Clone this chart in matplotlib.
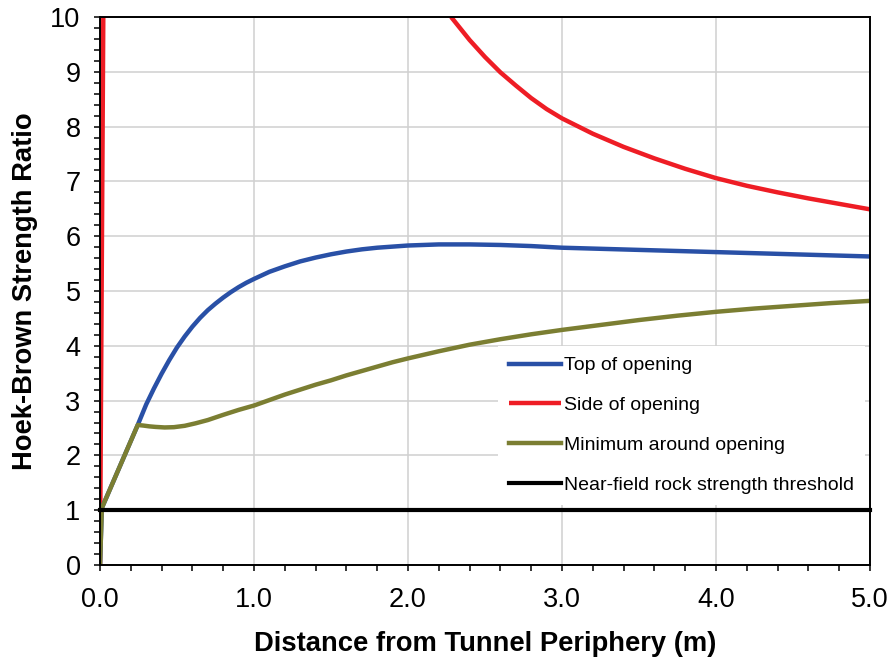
import numpy as np
import matplotlib
matplotlib.use("Agg")
import matplotlib.pyplot as plt
from matplotlib.ticker import MultipleLocator, FormatStrFormatter

plt.rcParams["font.family"] = ["Liberation Sans", "DejaVu Sans"]

# Hoek-Brown strength ratio vs distance from tunnel periphery
top_x = [0.0, 0.012, 0.245, 0.30, 0.35, 0.40, 0.45, 0.50, 0.55, 0.60, 0.65,
         0.70, 0.75, 0.80, 0.85, 0.90, 0.95, 1.00, 1.10, 1.20, 1.30, 1.40,
         1.50, 1.60, 1.70, 1.80, 1.90, 2.00, 2.20, 2.40, 2.60, 2.80, 3.00,
         3.50, 4.00, 4.50, 5.00]
top_y = [0.0, 1.04, 2.555, 2.93, 3.22, 3.49, 3.74, 3.97, 4.17, 4.35, 4.51,
         4.65, 4.77, 4.88, 4.98, 5.07, 5.15, 5.22, 5.35, 5.45, 5.54, 5.61,
         5.67, 5.72, 5.76, 5.79, 5.81, 5.83, 5.85, 5.85, 5.84, 5.82, 5.79,
         5.75, 5.71, 5.67, 5.63]

side_x = [0.0, 0.0214, np.nan, 2.28, 2.40, 2.50, 2.60, 2.70, 2.80, 2.90,
          3.00, 3.20, 3.40, 3.60, 3.80, 4.00, 4.20, 4.40, 4.60, 4.80, 5.00]
side_y = [0.0, 10.0, np.nan, 10.0, 9.58, 9.27, 8.99, 8.75, 8.52, 8.32,
          8.15, 7.87, 7.63, 7.42, 7.23, 7.06, 6.92, 6.80, 6.69, 6.59, 6.49]

min_x = [0.0, 0.012, 0.245, 0.28, 0.32, 0.36, 0.42, 0.48, 0.55, 0.62, 0.70,
         0.80, 0.90, 1.00, 1.10, 1.20, 1.30, 1.40, 1.50, 1.60, 1.70, 1.80,
         1.90, 2.00, 2.20, 2.40, 2.60, 2.80, 3.00, 3.25, 3.50, 3.75, 4.00,
         4.25, 4.50, 4.75, 5.00]
min_y = [0.0, 1.04, 2.555, 2.545, 2.53, 2.52, 2.51, 2.515, 2.54, 2.585, 2.645,
         2.74, 2.83, 2.91, 3.01, 3.11, 3.20, 3.29, 3.37, 3.46, 3.54, 3.62,
         3.70, 3.77, 3.90, 4.02, 4.12, 4.21, 4.29, 4.38, 4.47, 4.55, 4.62,
         4.68, 4.73, 4.78, 4.82]

thr_x = [0.0, 5.0]
thr_y = [1.0, 1.0]

labels = ["Top of opening", "Side of opening", "Minimum around opening",
          "Near-field rock strength threshold"]
colors = ["#2950A6", "#EE1D25", "#7B7E32", "#000000"]

fig = plt.figure(figsize=(8.91, 6.65), dpi=100)
ax = fig.add_axes([100 / 891, 1 - 565 / 665, 770 / 891, 548 / 665])

lw = 3.2
h_side, = ax.plot(side_x, side_y, color=colors[1], lw=lw, solid_capstyle="butt", zorder=3)
h_top, = ax.plot(top_x, top_y, color=colors[0], lw=lw, solid_joinstyle="round", zorder=4)
h_min, = ax.plot(min_x, min_y, color=colors[2], lw=lw, solid_joinstyle="round", zorder=5)
h_thr, = ax.plot(thr_x, thr_y, color=colors[3], lw=3.0, zorder=6, clip_on=False)

ax.set_xlim(0, 5)
ax.set_ylim(0, 10)
ax.xaxis.set_major_locator(MultipleLocator(1.0))
ax.xaxis.set_minor_locator(MultipleLocator(0.2))
ax.yaxis.set_major_locator(MultipleLocator(1))
ax.yaxis.set_minor_locator(MultipleLocator(0.2))
ax.xaxis.set_major_formatter(FormatStrFormatter("%.1f"))

ax.grid(True, which="major", color="#D0D0D0", lw=1.1, zorder=0)
ax.set_axisbelow(True)
for s in ax.spines.values():
    s.set_linewidth(1.4)
    s.set_color("black")
    s.set_zorder(9)

ax.tick_params(which="both", direction="out", length=4, width=1.1, color="black")
ax.tick_params(axis="x", which="major", labelsize=19.5, pad=12)
ax.tick_params(axis="y", which="major", labelsize=19.5, pad=10)

ax.set_xlabel("Distance from Tunnel Periphery (m)", fontsize=19.7,
              fontweight="bold", labelpad=13)
ax.set_ylabel("Hoek-Brown Strength Ratio", fontsize=19.7,
              fontweight="bold", labelpad=9)

leg = ax.legend([h_top, h_side, h_min, h_thr], labels, loc="upper left",
                bbox_to_anchor=((498 - 100) / 770, (565 - 346) / 548),
                fontsize=14.0, frameon=True, facecolor="white",
                edgecolor="none", framealpha=1.0, fancybox=False,
                handlelength=2.7, handletextpad=0.15, labelspacing=1.15,
                borderpad=0.55, borderaxespad=0.0)
leg.set_zorder(7)

fig.savefig("out.png", dpi=100)
